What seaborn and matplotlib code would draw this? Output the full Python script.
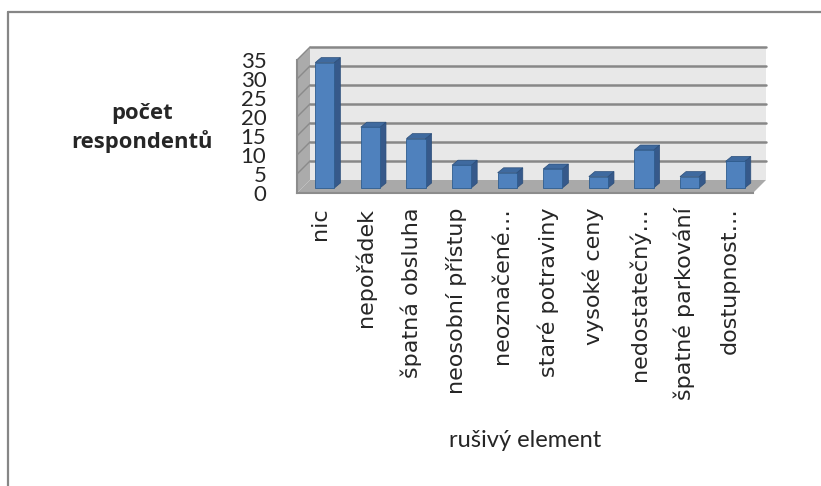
import matplotlib
matplotlib.use("Agg")
import matplotlib.pyplot as plt
from matplotlib.patches import Polygon, Rectangle
from matplotlib.lines import Line2D
import seaborn as sns
import pandas as pd

# Survey results: what bothers respondents most
categories = ["nic", "nepořádek", "špatná obsluha", "neosobní přístup", "neoznačené…",
              "staré potraviny", "vysoké ceny", "nedostatečný…", "špatné parkování",
              "dostupnost…"]
respondents = [33, 16, 13, 6, 4, 5, 3, 10, 3, 7]
y_ticks = [0, 5, 10, 15, 20, 25, 30, 35]
y_label = "počet\nrespondentů"
x_label = "rušivý element"

df = pd.DataFrame({"element": categories, "count": respondents})

sns.set_style("white")
plt.rcParams["font.family"] = ["Lato", "DejaVu Sans"]

W, H = 821, 486
fig = plt.figure(figsize=(W / 100, H / 100), dpi=100)
# front plane of the 3-D plot area, in pixels from the top-left corner
L, R, T, B = 297, 753, 60, 193
ax = fig.add_axes([L / W, 1 - B / H, (R - L) / W, (B - T) / H])
ax.set_facecolor("none")

n = len(categories)
ymax = y_ticks[-1]
xmin, xmax = -0.5, n - 0.5
ux = (xmax - xmin) / (R - L)   # data units per pixel
uy = ymax / (B - T)

# perspective offsets in pixels: back wall, bar front, bar back
dw = 13
bf = (5, 5)
bb = (11, 10)

grid_c = "#878787"
# back wall
ax.add_patch(Rectangle((xmin + dw * ux, dw * uy), xmax - xmin, ymax,
                       facecolor="#E8E8E8", edgecolor="none", zorder=0, clip_on=False))
# side wall
ax.add_patch(Polygon([(xmin, 0), (xmin, ymax), (xmin + dw * ux, ymax + dw * uy),
                      (xmin + dw * ux, dw * uy)], closed=True,
                     facecolor="#ABABAB", edgecolor="none", zorder=0, clip_on=False))
# floor
ax.add_patch(Polygon([(xmin, 0), (xmax, 0), (xmax + dw * ux, dw * uy),
                      (xmin + dw * ux, dw * uy)], closed=True,
                     facecolor="#A9A9A9", edgecolor="none", zorder=0.5, clip_on=False))
for v in y_ticks[1:]:
    ax.plot([xmin + dw * ux, xmax + dw * ux], [v + dw * uy, v + dw * uy],
            color=grid_c, lw=1.8, zorder=0.3, clip_on=False)
    ax.plot([xmin, xmin + dw * ux], [v, v + dw * uy],
            color="#8A8A8A", lw=1.0, zorder=0.3, clip_on=False)

sns.barplot(data=df, x="element", y="count", order=categories, ax=ax,
            color="#4F81BD", saturation=1, width=0.42, zorder=2)

front_c, side_c, top_c = "#4F81BD", "#36598A", "#3F6A9F"
for p in ax.patches:
    if not isinstance(p, Rectangle) or p.get_width() > 1:
        continue
    x0 = p.get_x() + bf[0] * ux
    y0 = p.get_y() + bf[1] * uy
    w, h = p.get_width(), p.get_height()
    p.set_x(x0)
    p.set_y(y0)
    p.set_facecolor(front_c)
    p.set_edgecolor("#2E5C8E")
    p.set_linewidth(0.6)
    p.set_clip_on(False)
    p.set_zorder(3)
    ddx = (bb[0] - bf[0]) * ux
    ddy = (bb[1] - bf[1]) * uy
    ax.add_patch(Polygon([(x0 + w, y0), (x0 + w + ddx, y0 + ddy),
                          (x0 + w + ddx, y0 + h + ddy), (x0 + w, y0 + h)],
                         closed=True, facecolor=side_c, edgecolor="#2B4E7A",
                         lw=0.5, zorder=2.5, clip_on=False))
    ax.add_patch(Polygon([(x0, y0 + h), (x0 + w, y0 + h), (x0 + w + ddx, y0 + h + ddy),
                          (x0 + ddx, y0 + h + ddy)], closed=True,
                         facecolor=top_c, edgecolor="#2B4E7A", lw=0.5,
                         zorder=2.5, clip_on=False))

ax.set_xlim(xmin, xmax)
ax.set_ylim(0, ymax)
ax.set_yticks(y_ticks)
ax.set_yticklabels([str(t) for t in y_ticks], fontsize=16)
ax.set_xticks(range(n))
ax.set_xticklabels(categories, rotation=90, va="top", ha="center",
                   fontsize=16, family=["DejaVu Sans"])
ax.set_xticks([xmin + i for i in range(n + 1)], minor=True)
ax.tick_params(axis="x", which="major", length=0, pad=10.5)
ax.tick_params(axis="x", which="minor", length=6, width=1.5, color="#8C8C8C", direction="out")
ax.tick_params(axis="y", length=6, width=1.5, color="#8C8C8C", direction="out", pad=16)

for s in ("top", "right"):
    ax.spines[s].set_visible(False)
for s in ("left", "bottom"):
    ax.spines[s].set_color("#8C8C8C")
    ax.spines[s].set_linewidth(1.5)
    ax.spines[s].set_zorder(1)

ax.set_ylabel(y_label, rotation=0, fontsize=15.8, fontweight="bold",
              ha="center", va="center", linespacing=1.3,
              family=["Open Sans", "DejaVu Sans"])
ax.yaxis.set_label_coords((142 - L) / (R - L), (B - 128) / (B - T))
ax.set_xlabel(x_label, fontsize=17, va="center")
ax.xaxis.set_label_coords(0.5, (B - 440) / (B - T))

# chart frame (top and left edges)
fig.add_artist(Line2D([8 / W, 1], [1 - 12 / H, 1 - 12 / H], color="#868686", lw=1.6))
fig.add_artist(Line2D([8 / W, 8 / W], [1 - 12 / H, 0], color="#868686", lw=1.6))

fig.savefig("out.png", dpi=100)
